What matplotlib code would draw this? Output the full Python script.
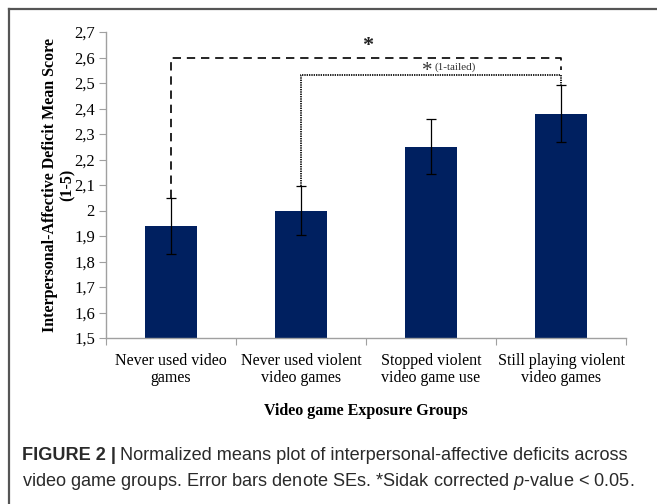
import matplotlib
matplotlib.use("Agg")
import matplotlib.pyplot as plt
from matplotlib.lines import Line2D

# Data
groups = ["Never used video\ngames", "Never used violent\nvideo games",
          "Stopped violent\nvideo game use", "Still playing violent\nvideo games"]
means = [1.94, 2.00, 2.25, 2.38]
errors = [0.11, 0.095, 0.107, 0.113]
y_ticks = [1.5, 1.6, 1.7, 1.8, 1.9, 2.0, 2.1, 2.2, 2.3, 2.4, 2.5, 2.6, 2.7]
y_tick_labels = ["1,5", "1,6", "1,7", "1,8", "1,9", "2", "2,1", "2,2", "2,3", "2,4", "2,5", "2,6", "2,7"]

W, H = 657, 504
fig = plt.figure(figsize=(W / 100, H / 100), dpi=100)

serif = ["Liberation Serif", "DejaVu Serif"]
cap_font = "Liberation Sans"
plt.rcParams["mathtext.fontset"] = "custom"
plt.rcParams["mathtext.it"] = "Liberation Sans:italic"
plt.rcParams["mathtext.rm"] = "Liberation Sans"

ax = fig.add_axes([106 / W, 1 - 338 / H, 520 / W, 306 / H])
x = list(range(len(groups)))
bar_color = "#002060"
ax.bar(x, means, width=0.4, color=bar_color, zorder=2)
ax.errorbar(x, means, yerr=errors, fmt="none", ecolor="black", elinewidth=0.9,
            capsize=3.5, capthick=0.9, zorder=3)

ax.set_xlim(-0.5, 3.5)
ax.set_ylim(1.5, 2.7)
ax.set_yticks(y_ticks)
ax.set_yticklabels(y_tick_labels, family=serif, fontsize=12)
ax.set_xticks([i - 0.5 for i in range(len(groups) + 1)])
ax.set_xticklabels([])
ax.set_xticks(x, minor=True)
ax.set_xticklabels(groups, minor=True, family=serif, fontsize=11.5, linespacing=1.05)
ax.tick_params(axis="x", which="minor", length=0, pad=11)
ax.tick_params(axis="x", which="major", length=5, color="#a0a0a0")
ax.tick_params(axis="y", length=5, color="#a0a0a0", pad=3)
for s in ["top", "right"]:
    ax.spines[s].set_visible(False)
for s in ["left", "bottom"]:
    ax.spines[s].set_color("#a0a0a0")
    ax.spines[s].set_linewidth(1.0)

ax.set_ylabel("Interpersonal-Affective Deficit Mean Score\n(1-5)", family=serif,
              fontweight="bold", fontsize=11.5, linespacing=1.1, labelpad=-1)
ax.set_xlabel("Video game Exposure Groups", family=serif, fontweight="bold",
              fontsize=11.5, labelpad=12)

# Significance brackets
top_level = 2.6
inner_level = 2.53
ax.plot([0, 0, 3, 3], [means[0] + errors[0], top_level, top_level, 2.55],
        color="black", lw=1.2, ls=(0, (5, 3.5)), clip_on=False, zorder=4)
ax.plot([1, 1, 3, 3], [means[1] + errors[1], inner_level, inner_level, means[3] + errors[3]],
        color="#222222", lw=1.4, ls=(0, (0.7, 0.5)), clip_on=False, zorder=4)
ax.text(1.515, 2.645, "*", ha="center", va="center", fontsize=16, fontweight="bold",
        family=serif, color="#222222")
ax.text(1.97, 2.545, "*", ha="center", va="center", fontsize=15, family=serif, color="#333333")
ax.text(2.03, 2.562, "(1-tailed)", ha="left", va="center", fontsize=8, family=serif, color="#333333")

# Panel frame
frame_color = "#555555"
fig.add_artist(Line2D([8.5 / W, 8.5 / W], [0, 1 - 8.5 / H], transform=fig.transFigure,
                      color=frame_color, lw=1.6))
fig.add_artist(Line2D([8.5 / W, 1], [1 - 8.5 / H, 1 - 8.5 / H], transform=fig.transFigure,
                      color=frame_color, lw=1.6))

# Caption
cap_size = 13.1
cap_y1 = 1 - 456 / H
cap_y2 = 1 - 482 / H
t1 = fig.text(22 / W, cap_y1, "FIGURE 2 |", family=cap_font, fontweight="bold",
              fontsize=cap_size, va="center", color="#2a2a2a")
fig.canvas.draw()
bb = t1.get_window_extent()
fig.text(bb.x1 / W + 4 / W, cap_y1, "Normalized means plot of interpersonal-affective deficits across",
         family=cap_font, fontsize=cap_size, va="center", color="#2a2a2a")
fig.text(22 / W, cap_y2, "video game groups. Error bars denote SEs. *Sidak corrected $p$-value < 0.05.",
         family=cap_font, fontsize=cap_size, va="center", color="#2a2a2a")

fig.savefig("out.png", dpi=100)
